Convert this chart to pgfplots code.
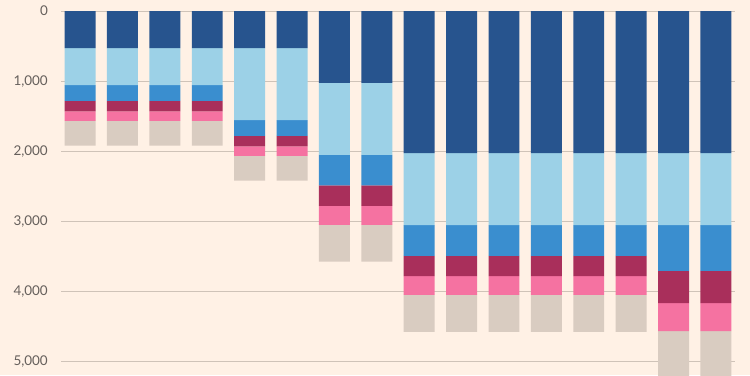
\documentclass[border=0pt]{standalone}
\usepackage{pgfplots}
\pgfplotsset{compat=1.18}
\usepackage{fontspec}
\setmainfont{Lato}
\definecolor{bg}{HTML}{FFF1E5}
\definecolor{gridc}{HTML}{CFC3B8}
\definecolor{tickc}{HTML}{66605C}
\definecolor{cA}{HTML}{27548E}
\definecolor{cB}{HTML}{9CD1E7}
\definecolor{cC}{HTML}{3A8ECF}
\definecolor{cD}{HTML}{A92F5B}
\definecolor{cE}{HTML}{F572A1}
\definecolor{cF}{HTML}{D9CCC1}
\begin{document}
\begin{tikzpicture}[x=1bp,y=1bp]
\fill[bg] (0,0) rectangle (750,-375);
\useasboundingbox (0,0) rectangle (750,-375);
\begin{axis}[
  at={(61bp,-11bp)}, anchor=north west,
  scale only axis, width=674bp, height=364bp,
  xmin=-0.45, xmax=15.45, ymin=0, ymax=5200,
  y dir=reverse,
  axis line style={draw=none},
  xtick=\empty,
  ytick={0,1000,2000,3000,4000,5000},
  major tick length=0pt,
  ymajorgrids, grid style={gridc, line width=0.8bp},
  yticklabel style={anchor=east, inner sep=0pt, text depth=0pt, xshift=-13bp, font=\fontsize{13.5}{14}\selectfont, text=tickc},
  /pgf/number format/.cd, 1000 sep={,}, assume math mode=true,
  /pgfplots/.cd,
  ybar stacked, bar width=0.73,
  every axis plot/.append style={draw=none},
]
\addplot[fill=cA] coordinates {(0,530)(1,530)(2,530)(3,530)(4,530)(5,530)(6,1025)(7,1025)(8,2030)(9,2030)(10,2030)(11,2030)(12,2030)(13,2030)(14,2030)(15,2030)};
\addplot[fill=cB] coordinates {(0,530)(1,530)(2,530)(3,530)(4,1030)(5,1030)(6,1030)(7,1030)(8,1030)(9,1030)(10,1030)(11,1030)(12,1030)(13,1030)(14,1030)(15,1030)};
\addplot[fill=cC] coordinates {(0,224)(1,224)(2,224)(3,224)(4,224)(5,224)(6,435)(7,435)(8,439)(9,439)(10,439)(11,439)(12,439)(13,439)(14,653)(15,653)};
\addplot[fill=cD] coordinates {(0,148)(1,148)(2,148)(3,148)(4,148)(5,148)(6,294)(7,294)(8,290)(9,290)(10,290)(11,290)(12,290)(13,290)(14,461)(15,461)};
\addplot[fill=cE] coordinates {(0,138)(1,138)(2,138)(3,138)(4,138)(5,138)(6,270)(7,270)(8,267)(9,267)(10,267)(11,267)(12,267)(13,267)(14,400)(15,400)};
\addplot[fill=cF] coordinates {(0,352)(1,352)(2,352)(3,352)(4,352)(5,352)(6,525)(7,525)(8,528)(9,528)(10,528)(11,528)(12,528)(13,528)(14,700)(15,700)};
\end{axis}
\end{tikzpicture}
\end{document}
